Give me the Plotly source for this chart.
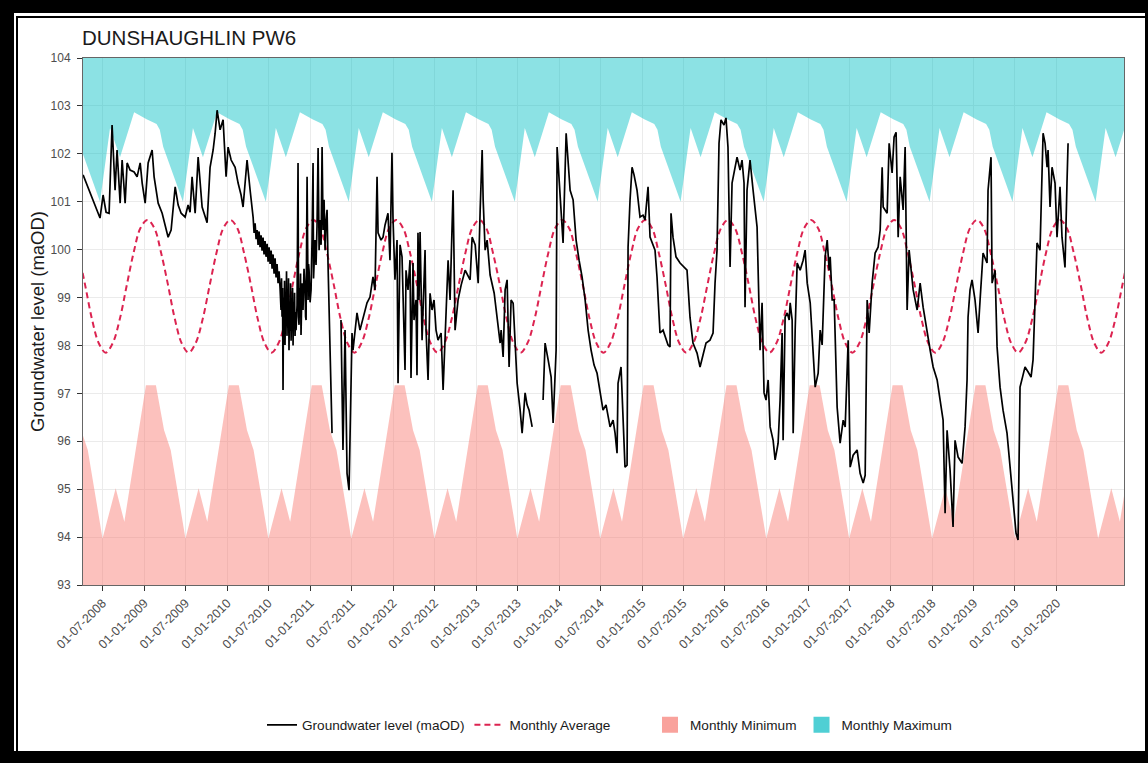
import plotly.graph_objects as go
from datetime import datetime

# ---------------- data ----------------
TITLE = "DUNSHAUGHLIN PW6"
Y_TITLE = "Groundwater level (maOD)"

# Groundwater level, decimal year / maOD (None marks a gap in the record)
LEVEL_T = [
    2008.263, 2008.347, 2008.431, 2008.467, 2008.504, 2008.540, 2008.576, 2008.612, 2008.648, 2008.672,
    2008.709, 2008.733, 2008.769, 2008.793, 2008.829, 2008.877, 2008.913, 2008.950, 2008.974, 2009.010,
    2009.046, 2009.094, 2009.118, 2009.167, 2009.215, 2009.263, 2009.287, 2009.323, 2009.372, 2009.408,
    2009.444, 2009.492, 2009.528, 2009.552, 2009.576, 2009.613, 2009.649, 2009.697, 2009.757, 2009.793,
    2009.830, 2009.854, 2009.878, 2009.914, 2009.950, 2009.986, 2010.010, 2010.047, 2010.095, 2010.131,
    2010.167, 2010.191, 2010.239, 2010.276,
    2010.312, 2010.324, 2010.336, 2010.348, 2010.360, 2010.372, 2010.384, 2010.396, 2010.408, 2010.420,
    2010.432, 2010.444, 2010.456, 2010.468, 2010.481, 2010.493, 2010.505, 2010.517, 2010.529, 2010.541,
    2010.553, 2010.565, 2010.577, 2010.589, 2010.601, 2010.613, 2010.625, 2010.637,
    2010.649, 2010.655, 2010.661, 2010.667, 2010.673, 2010.679, 2010.685, 2010.691, 2010.697, 2010.703,
    2010.709, 2010.715, 2010.721, 2010.727, 2010.733, 2010.739, 2010.745, 2010.751, 2010.758, 2010.764,
    2010.770, 2010.776, 2010.782, 2010.788, 2010.794, 2010.800, 2010.806, 2010.812, 2010.818, 2010.824,
    2010.830, 2010.842, 2010.854, 2010.860, 2010.866, 2010.872, 2010.878, 2010.884, 2010.890, 2010.902,
    2010.914, 2010.926, 2010.939, 2010.945, 2010.951, 2010.963, 2010.975, 2010.981, 2010.987, 2010.999,
    2011.011, 2011.023, 2011.035, 2011.041, 2011.047, 2011.059, 2011.071, 2011.083, 2011.096, 2011.108,
    2011.120, 2011.132, 2011.144, 2011.156, 2011.168, 2011.180, 2011.192, 2011.204, 2011.216, 2011.228,
    2011.240, 2011.252, 2011.264,
    2011.300,
    2011.372, 2011.396, 2011.421, 2011.445, 2011.469, 2011.481, 2011.505, 2011.517, 2011.565, 2011.601,
    2011.638, 2011.686, 2011.722, 2011.758, 2011.782, 2011.807, 2011.819, 2011.855, 2011.879, 2011.903,
    2011.939, 2011.963, 2011.987, 2011.999, 2012.023, 2012.048, 2012.060, 2012.084, 2012.108, 2012.132,
    2012.144, 2012.156, 2012.180, 2012.204, 2012.216, 2012.240, 2012.252, 2012.276, 2012.288, 2012.300,
    2012.312, 2012.325, 2012.349, 2012.373, 2012.385, 2012.397, 2012.421, 2012.445, 2012.469, 2012.493,
    2012.517, 2012.541, 2012.578, 2012.602, 2012.626, 2012.662, 2012.686, 2012.722, 2012.746, 2012.782,
    2012.819, 2012.867, 2012.927, 2012.951, 2012.988, 2013.024, 2013.048, 2013.072, 2013.084, 2013.108,
    2013.132, 2013.168, 2013.217, 2013.253, 2013.289, 2013.301, 2013.325, 2013.349, 2013.373, 2013.397,
    2013.421, 2013.446, 2013.470, 2013.494, 2013.530, 2013.554, 2013.590, 2013.614, 2013.638, 2013.675,
    2013.740,
    2013.807, 2013.831, 2013.868, 2013.904, 2013.928, 2013.964, 2013.976, 2014.012, 2014.048, 2014.085,
    2014.109, 2014.133, 2014.169, 2014.205, 2014.241, 2014.277, 2014.314, 2014.350, 2014.386, 2014.422,
    2014.458, 2014.494, 2014.530, 2014.566, 2014.615, 2014.651, 2014.675, 2014.699, 2014.711, 2014.747,
    2014.771, 2014.795, 2014.820, 2014.832, 2014.856, 2014.880, 2014.904, 2014.940, 2014.976, 2015.012,
    2015.037, 2015.073, 2015.097, 2015.133, 2015.157, 2015.181, 2015.217, 2015.254, 2015.290, 2015.314,
    2015.338, 2015.350, 2015.374, 2015.410, 2015.459, 2015.507, 2015.543, 2015.579, 2015.615, 2015.664,
    2015.700, 2015.736, 2015.772, 2015.820, 2015.857, 2015.881, 2015.905, 2015.929, 2015.953, 2015.989,
    2016.013, 2016.037, 2016.062, 2016.086, 2016.122, 2016.146, 2016.182, 2016.206, 2016.230, 2016.242,
    2016.266, 2016.302, 2016.339, 2016.387, 2016.423, 2016.447, 2016.471, 2016.495, 2016.520, 2016.544,
    2016.580, 2016.604, 2016.640, 2016.664, 2016.688, 2016.700, 2016.724, 2016.749, 2016.773, 2016.785,
    2016.809, 2016.821, 2016.845, 2016.869, 2016.905, 2016.941, 2016.965, 2016.990, 2017.026, 2017.050,
    2017.086, 2017.122, 2017.146, 2017.170, 2017.206, 2017.231, 2017.255, 2017.267, 2017.291, 2017.315,
    2017.351, 2017.387, 2017.424, 2017.448, 2017.484, 2017.508, 2017.544, 2017.592, 2017.628, 2017.665,
    2017.689, 2017.713, 2017.737, 2017.773, 2017.809, 2017.845, 2017.870, 2017.894, 2017.906, 2017.954,
    2017.978, 2018.014, 2018.038, 2018.062, 2018.087, 2018.111, 2018.147, 2018.171, 2018.195, 2018.219,
    2018.243, 2018.268, 2018.316, 2018.352, 2018.388, 2018.436, 2018.473, 2018.509, 2018.557, 2018.593,
    2018.629, 2018.653, 2018.677, 2018.713, 2018.749, 2018.773, 2018.810, 2018.858, 2018.894, 2018.918,
    2018.930, 2018.954, 2018.978, 2019.014, 2019.051, 2019.075, 2019.111, 2019.159, 2019.171, 2019.207,
    2019.220, 2019.256, 2019.280, 2019.316, 2019.352, 2019.400, 2019.436, 2019.473, 2019.509, 2019.533,
    2019.557, 2019.593, 2019.617, 2019.653, 2019.690, 2019.714, 2019.738, 2019.762, 2019.798, 2019.835,
    2019.859, 2019.883, 2019.895, 2019.919, 2019.943, 2019.979, 2020.003, 2020.039, 2020.063, 2020.099,
    2020.123, 2020.136,
]
LEVEL_V = [
    101.56, 101.18, 100.83, 100.66, 101.14, 100.78, 100.76, 102.60, 101.24, 102.08,
    100.97, 101.87, 100.97, 101.81, 101.66, 101.62, 101.52, 101.81, 101.39, 100.97,
    101.81, 102.08, 101.52, 100.97, 100.76, 100.45, 100.26, 100.41, 101.31, 100.93,
    100.76, 100.68, 100.93, 100.78, 101.52, 100.76, 101.93, 100.89, 100.56, 101.72,
    102.08, 102.43, 102.91, 102.50, 102.71, 101.52, 102.14, 101.87, 101.72, 101.39,
    101.14, 100.89, 101.87, 101.24,
    100.68, 100.35, 100.55, 100.22, 100.41, 100.10, 100.38, 100.05, 100.30, 99.98,
    100.25, 99.90, 100.18, 99.85, 100.12, 99.75, 100.05, 99.70, 99.98, 99.60,
    99.90, 99.50, 99.82, 99.42, 99.70, 99.30, 99.55, 99.20,
    98.74, 99.40, 98.60, 99.20, 97.07, 99.00, 98.30, 99.35, 98.01, 99.10,
    98.40, 99.55, 98.20, 99.00, 98.50, 99.40, 97.90, 98.90, 98.30, 99.30,
    98.10, 98.80, 98.40, 99.20, 98.00, 98.90, 98.35, 99.10, 98.20, 98.70,
    98.32, 98.84, 101.81, 98.60, 98.43, 99.20, 98.95, 99.50, 98.22, 99.30,
    98.74, 99.60, 99.16, 98.60, 98.53, 101.52, 98.95, 99.70, 99.57, 98.90,
    99.16, 100.20, 101.81, 99.40, 99.78, 100.20, 99.68, 100.50, 102.12, 99.99,
    100.62, 100.10, 102.14, 100.41, 101.04, 99.99, 100.60, 100.83, 99.68, 98.95,
    98.11, 97.05, 96.17,
    None,
    98.53, 95.82, 98.32, 95.33, 94.98, 96.02, 98.26, 97.90, 98.68, 98.32,
    98.57, 98.89, 99.01, 99.43, 99.16, 101.52, 100.35, 100.20, 100.26, 100.51,
    100.76, 99.78, 102.02, 100.68, 99.37, 100.20, 97.21, 100.10, 99.85, 98.53,
    97.49, 99.57, 99.16, 99.78, 97.32, 99.72, 98.53, 98.95, 97.38, 100.35,
    98.95, 100.37, 98.11, 99.37, 99.99, 98.32, 97.28, 99.09, 98.74, 98.95,
    98.32, 98.11, 98.26, 97.07, 98.11, 99.78, 98.95, 101.24, 98.32, 98.95,
    99.26, 99.57, 99.37, 100.26, 100.10, 99.30, 100.83, 102.08, 101.04, 99.99,
    100.20, 99.47, 99.09, 98.53, 98.05, 98.32, 97.76, 99.16, 99.37, 97.55,
    98.95, 98.88, 98.11, 97.21, 96.65, 96.17, 97.01, 96.76, 96.65, 96.30,
    None,
    96.86, 98.05, 97.70, 97.34, 96.38, 97.90, 102.14, 101.24, 100.14, 102.43,
    101.87, 101.24, 101.04, 100.20, 99.78, 99.43, 98.95, 98.32, 97.90, 97.59,
    97.42, 97.01, 96.65, 96.76, 96.30, 96.44, 96.17, 95.75, 97.21, 97.55,
    96.44, 95.46, 95.50, 100.05, 101.04, 101.72, 101.56, 101.24, 100.68, 100.72,
    100.62, 101.31, 100.26, 100.10, 99.99, 99.43, 98.26, 98.32, 98.11, 98.01,
    97.97, 100.76, 100.26, 99.85, 99.72, 99.64, 99.57, 98.59, 98.05, 97.84,
    97.55, 97.80, 98.05, 98.11, 98.26, 99.30, 99.99, 102.22, 102.71, 102.60,
    102.75, 102.14, 99.64, 101.39, 101.77, 101.93, 101.66, 101.87, 101.39, 98.80,
    101.24, 101.87, 101.24, 100.47, 97.90, 98.89, 97.01, 96.86, 97.28, 96.30,
    96.02, 95.61, 95.96, 96.86, 98.26, 96.02, 98.59, 98.68, 98.53, 98.89,
    98.53, 96.17, 98.32, 99.72, 99.57, 99.78, 99.99, 99.30, 98.89, 98.18,
    97.13, 97.42, 98.32, 98.01, 99.85, 100.20, 99.57, 99.85, 98.95, 98.95,
    96.71, 95.96, 96.44, 96.30, 98.11, 95.46, 95.71, 95.82, 95.33, 95.13,
    95.29, 98.95, 98.26, 99.30, 99.93, 100.05, 100.41, 101.72, 100.89, 100.76,
    102.22, 101.60, 102.35, 102.45, 100.26, 101.52, 100.83, 102.14, 98.74, 99.99,
    99.64, 99.16, 98.74, 99.30, 98.80, 98.26, 97.90, 97.55, 97.28, 96.86,
    96.44, 94.50, 96.23, 95.40, 94.21, 96.02, 95.67, 95.54, 96.30, 97.28,
    98.59, 99.16, 99.37, 98.95, 98.26, 98.95, 99.93, 99.72, 101.24, 101.93,
    99.30, 99.57, 97.97, 97.13, 96.65, 96.17, 95.46, 94.63, 94.08, 93.94,
    97.13, 97.38, 97.55, 97.45, 97.34, 97.70, 98.95, 100.14, 99.99, 102.43,
    102.22, 101.72, 102.08, 100.89, 101.72, 101.39, 100.26, 101.31, 100.26, 99.63,
    101.39, 102.22,
]

# Monthly average level (value at mid-month, Jan..Dec)
AVG_MONTHS = list(range(1, 13))
AVG_VALUES = [100.62, 100.44, 99.95, 99.27, 98.56, 98.04, 97.85, 98.05, 98.55, 99.24, 99.94, 100.45]

# Monthly minimum envelope (month, day, maOD)
MIN_DATES = [(1, 8), (2, 21), (3, 29), (4, 27), (7, 1), (8, 28), (10, 5)]
MIN_VALUES = [97.17, 97.17, 96.23, 95.82, 93.97, 95.02, 94.32]

# Monthly maximum envelope (month, day, maOD)
MAX_DATES = [(1, 11), (2, 24), (3, 10), (3, 25), (6, 20), (8, 3), (9, 16), (11, 17)]
MAX_VALUES = [102.72, 102.62, 102.50, 102.15, 101.00, 102.54, 101.93, 102.87]

YEARS = list(range(2007, 2022))
TICK_DATES = [datetime(y, m, 1) for y in range(2008, 2021) for m in (1, 7)
              if datetime(2008, 7, 1) <= datetime(y, m, 1) <= datetime(2020, 1, 1)]
X_RANGE = [datetime(2008, 4, 6), datetime(2020, 10, 23)]
Y_RANGE = [93, 104]

MIN_FILL = "rgba(248,118,109,0.45)"
MAX_FILL = "rgba(0,191,196,0.45)"


def to_date(t):
    if t is None:
        return None
    y = int(t)
    a, b = datetime(y, 1, 1), datetime(y + 1, 1, 1)
    return a + (b - a) * (t - y)


def seasonal(dates, values, mid=False):
    xs, ys = [], []
    for y in YEARS:
        for md, v in zip(dates, values):
            if mid:
                xs.append(datetime(y, md, 15))
            else:
                xs.append(datetime(y, md[0], md[1]))
            ys.append(v)
    return xs, ys


lvl_x = [to_date(t) for t in LEVEL_T]
avg_x, avg_y = seasonal(AVG_MONTHS, AVG_VALUES, mid=True)
min_x, min_y = seasonal(MIN_DATES, MIN_VALUES)
max_x, max_y = seasonal(MAX_DATES, MAX_VALUES)

fig = go.Figure()

# ceiling of the panel, used as the upper edge of the maximum band
fig.add_trace(go.Scatter(x=max_x, y=[Y_RANGE[1]] * len(max_x), mode="lines",
                         line=dict(width=0, color="rgba(0,0,0,0)"),
                         showlegend=False, hoverinfo="skip"))
fig.add_trace(go.Scatter(x=max_x, y=max_y, mode="lines", fill="tonexty",
                         fillcolor=MAX_FILL, line=dict(width=0, color=MAX_FILL),
                         name="Monthly Maximum", showlegend=False))
fig.add_trace(go.Scatter(x=min_x, y=min_y, mode="lines", fill="tozeroy",
                         fillcolor=MIN_FILL, line=dict(width=0, color=MIN_FILL),
                         name="Monthly Minimum", showlegend=False))
fig.add_trace(go.Scatter(x=avg_x, y=avg_y, mode="lines", line_shape="spline",
                         line=dict(color="#dc2350", width=2, dash="6px,4px"),
                         name="Monthly Average", legendrank=2))
fig.add_trace(go.Scatter(x=lvl_x, y=LEVEL_V, mode="lines", connectgaps=False,
                         line=dict(color="black", width=1.7),
                         name="Groundwater level (maOD)", legendrank=1))

# square keys for the two envelope bands
fig.add_trace(go.Scatter(x=[None], y=[None], mode="markers", name="Monthly Minimum",
                         marker=dict(symbol="square", size=16, color="#f9a29c"),
                         legend="legend2", legendrank=1))
fig.add_trace(go.Scatter(x=[None], y=[None], mode="markers", name="Monthly Maximum",
                         marker=dict(symbol="square", size=16, color="#4fcfd4"),
                         legend="legend2", legendrank=2))

W, H = 1148, 763
PL, PR, PT, PB = 83, 1124, 58, 585


def px(x):
    return (x - PL) / (PR - PL)


def py(y):
    return (PB - y) / (PB - PT)


# black double frame around the figure
frame = [
    (0, 0, 14, H), (0, 0, W, 13), (0, 751, W, H), (1145, 0, W, H),
    (16, 16, 18, 751), (16, 16, 1145, 18),
]
shapes = [dict(type="rect", xref="paper", yref="paper", x0=px(a), x1=px(c), y0=py(d), y1=py(b),
               fillcolor="black", line=dict(width=0), layer="above") for a, b, c, d in frame]

fig.update_layout(
    width=W, height=H,
    margin=dict(l=PL, r=W - PR, t=PT, b=H - PB),
    paper_bgcolor="white", plot_bgcolor="white",
    font=dict(family="Liberation Sans, Arial, sans-serif", color="#4d4d4d", size=12),
    title=dict(text=TITLE, x=82 / W, xanchor="left", y=1 - 38 / H, yanchor="middle",
               font=dict(size=20.5, color="#1a1a1a")),
    xaxis=dict(type="date", range=X_RANGE, tickvals=TICK_DATES,
               ticktext=[d.strftime("%d-%m-%Y") for d in TICK_DATES], tickangle=-45,
               showgrid=True, gridcolor="#ebebeb", gridwidth=1,
               ticks="outside", ticklen=5, tickcolor="#333333",
               showline=True, mirror=True, linecolor="#666666", linewidth=1,
               tickfont=dict(size=12.5, color="#4d4d4d"), zeroline=False),
    yaxis=dict(range=Y_RANGE, dtick=1, tick0=93,
               showgrid=True, gridcolor="#ebebeb", gridwidth=1,
               ticks="outside", ticklen=5, tickcolor="#333333", ticklabelstandoff=4,
               showline=True, mirror=True, linecolor="#666666", linewidth=1,
               tickfont=dict(size=12, color="#4d4d4d"), zeroline=False,
               title=dict(text=Y_TITLE, font=dict(size=18.5, color="#1a1a1a"), standoff=1)),
    legend=dict(orientation="h", x=px(262), y=py(725), xanchor="left", yanchor="middle",
                font=dict(size=13.6, color="#1a1a1a"), bgcolor="rgba(0,0,0,0)",
                traceorder="normal"),
    legend2=dict(orientation="h", x=px(650), y=py(725), xanchor="left", yanchor="middle",
                 font=dict(size=13.6, color="#1a1a1a"), bgcolor="rgba(0,0,0,0)",
                 traceorder="normal", itemsizing="trace"),
    shapes=shapes,
)

fig.write_html("out.html")
